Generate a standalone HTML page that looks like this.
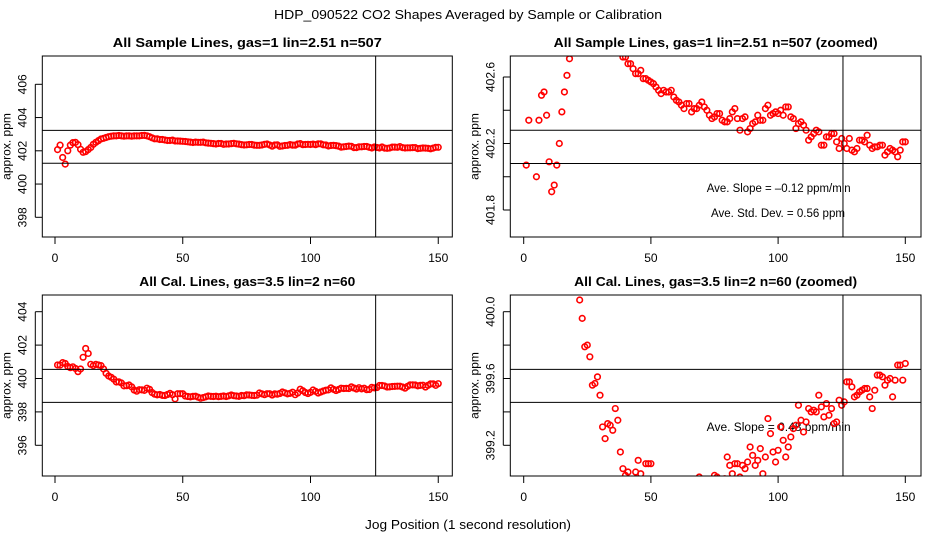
<!DOCTYPE html>
<html><head><meta charset="utf-8"><style>
body{margin:0;background:#fff;}
svg{display:block;font-family:"Liberation Sans",sans-serif;}
</style></head><body>
<svg id="chart" width="936" height="540" viewBox="0 0 936 540" xmlns="http://www.w3.org/2000/svg">
<rect width="936" height="540" fill="#fff"/>
<text x="468" y="19" text-anchor="middle" font-size="13" textLength="388" lengthAdjust="spacingAndGlyphs">HDP_090522  CO2 Shapes Averaged by Sample or Calibration</text>
<text x="468" y="529" text-anchor="middle" font-size="13" textLength="206" lengthAdjust="spacingAndGlyphs">Jog Position (1 second resolution)</text>
</svg>
<script>
const sampleIdx = [];
for (let i = 1; i <= 150; i++) sampleIdx.push(i);
const sampleVals = [402.07,402.34,401.6,401.2,402.0,402.34,402.49,402.51,402.37,402.09,
401.91,401.95,402.07,402.2,402.39,402.51,402.61,402.71,402.75,402.8,
402.85,402.88,402.9,402.9,402.92,402.9,402.88,402.9,402.9,402.88,
402.9,402.9,402.9,402.92,402.93,402.9,402.85,402.78,402.72,402.72,
402.68,402.68,402.65,402.62,402.62,402.64,402.59,402.59,402.58,402.57,
402.56,402.54,402.52,402.5,402.52,402.51,402.51,402.52,402.48,402.46,
402.45,402.43,402.41,402.44,402.44,402.39,402.41,402.41,402.43,402.45,
402.42,402.4,402.37,402.35,402.36,402.38,402.38,402.34,402.33,402.33,
402.35,402.39,402.41,402.35,402.28,402.35,402.36,402.27,402.29,402.32,
402.33,402.37,402.34,402.34,402.41,402.43,402.37,402.38,402.39,402.38,
402.4,402.37,402.42,402.42,402.36,402.35,402.29,402.32,402.33,402.31,
402.28,402.22,402.24,402.26,402.28,402.27,402.19,402.19,402.24,402.24,
402.26,402.26,402.21,402.17,402.23,402.2,402.17,402.23,402.16,402.15,
402.17,402.22,402.22,402.21,402.25,402.19,402.17,402.18,402.18,402.19,
402.19,402.13,402.15,402.17,402.16,402.15,402.12,402.16,402.21,402.21];
const calVals = [400.81,400.8,400.95,400.9,400.72,400.65,400.7,400.6,400.41,400.57,
401.27,401.8,401.5,400.85,400.77,400.85,400.81,400.77,400.57,400.31,
400.15,400.07,399.96,399.79,399.8,399.73,399.56,399.57,399.61,399.5,
399.31,399.24,399.33,399.32,399.29,399.42,399.35,399.16,399.06,399.02,
399.04,398.99,398.98,399.04,399.11,399.03,398.78,399.09,399.09,399.09,
398.95,398.92,398.9,398.93,398.94,398.88,398.82,398.86,398.9,398.95,
398.93,398.92,398.94,398.91,398.93,398.95,398.92,398.96,399.01,398.97,
398.95,398.93,398.98,398.97,399.02,399.01,398.99,398.98,399.0,399.13,
399.08,399.03,399.09,399.09,399.01,399.08,399.06,399.1,399.19,399.14,
399.08,399.11,399.18,399.03,399.13,399.36,399.27,399.16,399.1,399.17,
399.31,399.23,399.13,399.19,399.25,399.3,399.32,399.44,399.35,399.28,
399.34,399.42,399.4,399.41,399.4,399.5,399.43,399.37,399.45,399.38,
399.42,399.33,399.34,399.47,399.44,399.46,399.58,399.58,399.55,399.49,
399.5,399.52,399.53,399.54,399.54,399.49,399.42,399.53,399.62,399.62,
399.61,399.56,399.59,399.6,399.49,399.59,399.68,399.68,399.59,399.69];
const xTicks = [0,50,100,150];
const p1Ticks = [398,400,402,404,406];
const p2Ticks = [401.8,402.0,402.2,402.4,402.6];
const p2Labels = ["401.8","","402.2","","402.6"];
const p3Ticks = [396,398,400,402,404];
const p4Ticks = [399.2,399.4,399.6,399.8,400.0];
const p4Labels = ["399.2","","399.6","","400.0"];
const p1Bands = [401.25,403.23];
const p2Bands = [402.08,402.28];
const p3Bands = [398.57,400.55];
const p4Bands = [399.457,399.655];
const markerPos = [125.5];

const NS="http://www.w3.org/2000/svg";
const svg=document.getElementById('chart');
function mk(tag,attrs,parent){const e=document.createElementNS(NS,tag);for(const k in attrs)e.setAttribute(k,attrs[k]);(parent||svg).appendChild(e);return e;}

const panels=[
 {name:'sample-all',title:'All Sample Lines, gas=1 lin=2.51 n=507',tw:269,L:42.3,R:452.3,T:56,B:237,x0:55,xs:2.555,yRef:406,yRefPx:84.3,ys:16.625,ticks:p1Ticks,labels:p1Ticks.map(String),vals:sampleVals,bands:p1Bands,texts:[]},
 {name:'sample-zoomed',title:'All Sample Lines, gas=1 lin=2.51 n=507 (zoomed)',tw:324,L:510.3,R:921,T:56,B:237,x0:523.7,xs:2.544,yRef:402.6,yRefPx:77,ys:166.25,ticks:p2Ticks,labels:p2Labels,vals:sampleVals,bands:p2Bands,texts:[["Ave. Slope =  \u20130.12  ppm/min",778.7,192,144],["Ave. Std. Dev. =  0.56  ppm",778,217,134]]},
 {name:'cal-all',title:'All Cal. Lines, gas=3.5 lin=2 n=60',tw:216,L:42.3,R:452.3,T:295,B:476,x0:55,xs:2.555,yRef:404,yRefPx:311.7,ys:16.7,ticks:p3Ticks,labels:p3Ticks.map(String),vals:calVals,bands:p3Bands,texts:[]},
 {name:'cal-zoomed',title:'All Cal. Lines, gas=3.5 lin=2 n=60 (zoomed)',tw:283,L:510.3,R:921,T:295,B:476,x0:523.7,xs:2.544,yRef:400,yRefPx:311.7,ys:167,ticks:p4Ticks,labels:p4Labels,vals:calVals,bands:p4Bands,texts:[["Ave. Slope =  0.48  ppm/min",778.7,431,144]]}
];
panels.forEach((p,pi)=>{
 const g=mk('g',{});
 
 
 const X=v=>p.x0+v*p.xs, Y=v=>p.yRefPx-(v-p.yRef)*p.ys;
 const cid='clip'+pi;
 const cp=mk('clipPath',{id:cid},g);mk('rect',{x:p.L,y:p.T,width:p.R-p.L,height:p.B-p.T},cp);
 const t=mk('text',{x:(p.L+p.R)/2,y:p.T-9,'text-anchor':'middle','font-size':13,'font-weight':'bold',textLength:p.tw,lengthAdjust:'spacingAndGlyphs'},g);
 t.textContent=p.title;
 
 
 xTicks.forEach(v=>{
  mk('line',{x1:X(v),x2:X(v),y1:p.B,y2:p.B+7,stroke:'#000'},g);
  const l=mk('text',{x:X(v),y:p.B+25,'text-anchor':'middle','font-size':12},g);l.textContent=v;
  
  
 });
 p.ticks.forEach((v,k)=>{
  mk('line',{x1:p.L-7,x2:p.L,y1:Y(v),y2:Y(v),stroke:'#000'},g);
  if(p.labels[k]){const l=mk('text',{x:0,y:0,'text-anchor':'middle','font-size':12,transform:`translate(${p.L-16},${Y(v)}) rotate(-90)`},g);l.textContent=p.labels[k];
  
  }
 });
 mk('line',{x1:p.L-7,x2:p.L-7,y1:Y(p.ticks[0]),y2:Y(p.ticks[p.ticks.length-1]),stroke:'#000'},g);
 const yt=mk('text',{x:0,y:0,'text-anchor':'middle','font-size':12,transform:`translate(${p.L-32},${(p.T+p.B)/2}) rotate(-90)`},g);
 yt.textContent='approx. ppm';
 
 
 p.texts.forEach(s=>{const e=mk('text',{x:s[1],y:s[2],'text-anchor':'middle','font-size':11.5,textLength:s[3],lengthAdjust:'spacingAndGlyphs'},g);e.textContent=s[0];
  
  });
 const pg=mk('g',{'clip-path':`url(#${cid})`},g);
 p.vals.forEach((v,i)=>{
  const c=mk('circle',{cx:X(sampleIdx[i]),cy:Y(v),r:2.8,fill:'none',stroke:'#f00','stroke-width':1.6},pg);
  
  
 });
 p.bands.forEach(b=>{const l=mk('line',{x1:p.L,x2:p.R,y1:Y(b),y2:Y(b),stroke:'#000'},g);
  
  });
 markerPos.forEach(m=>{const l=mk('line',{x1:X(m),x2:X(m),y1:p.T,y2:p.B,stroke:'#000'},g);
  
  });
 mk('rect',{x:p.L,y:p.T,width:p.R-p.L,height:p.B-p.T,fill:'none',stroke:'#000'},g);
});
</script>
</body></html>
